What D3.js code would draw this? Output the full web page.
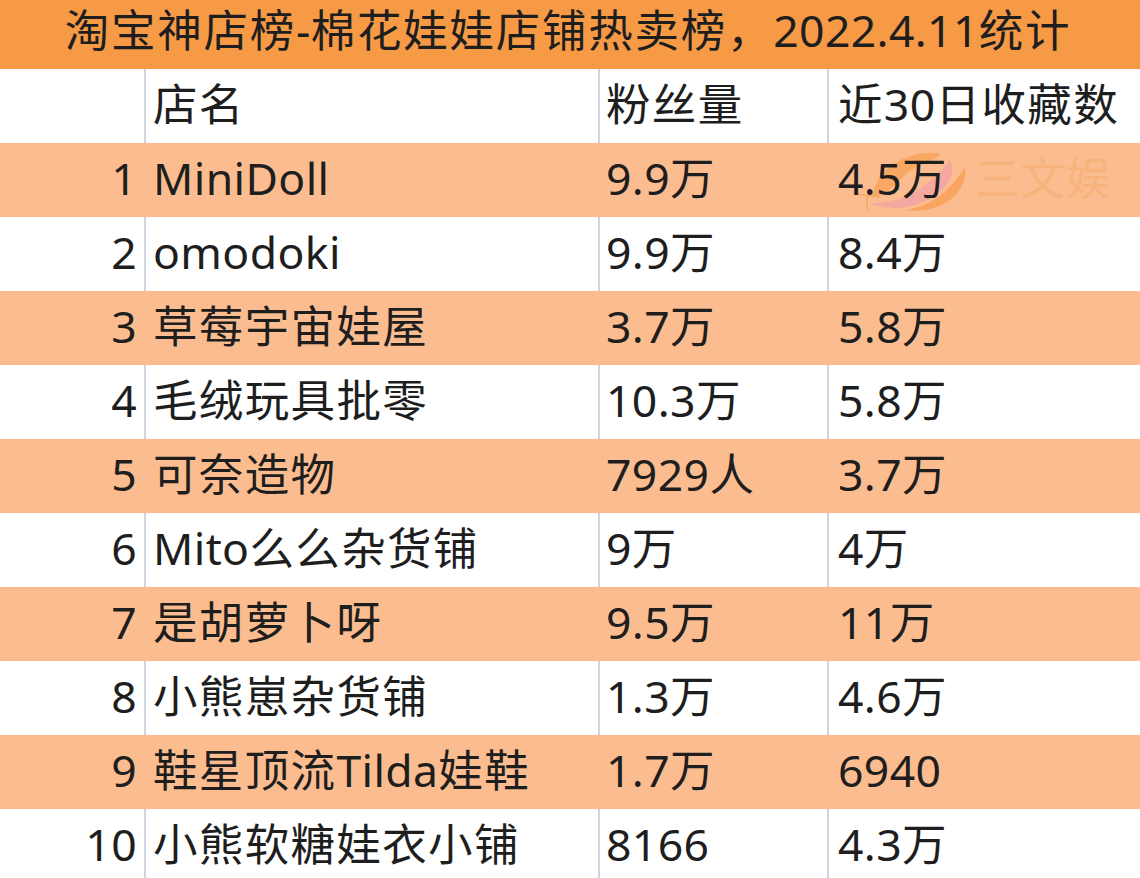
<!DOCTYPE html>
<html><head><meta charset="utf-8">
<script src="https://cdn.jsdelivr.net/npm/d3@7"></script>
<style>html,body{margin:0;padding:0;background:#fff}svg{display:block}text{font-family:"Noto Sans","Noto Sans CJK SC",sans-serif;text-spacing-trim:space-all;font-feature-settings:"palt" 0,"halt" 0,"chws" 0}</style>
</head><body><svg id="c" width="1140" height="878"></svg>
<script>
const title = "淘宝神店榜-棉花娃娃店铺热卖榜，2022.4.11统计";
const headers = ["", "店名", "粉丝量", "近30日收藏数"];
const ranks = ["1","2","3","4","5","6","7","8","9","10"];
const shops = ["MiniDoll","omodoki","草莓宇宙娃屋","毛绒玩具批零","可奈造物","Mito么么杂货铺","是胡萝卜呀","小熊崽杂货铺","鞋星顶流Tilda娃鞋","小熊软糖娃衣小铺"];
const fans = ["9.9万","9.9万","3.7万","10.3万","7929人","9万","9.5万","1.3万","1.7万","8166"];
const favs = ["4.5万","8.4万","5.8万","5.8万","3.7万","4万","11万","4.6万","6940","4.3万"];
const rowKeys = ["title","header",...ranks];
const svg = d3.select("#c");
const W = 1140;
const y = d3.scaleBand().domain(rowKeys).range([-5, 883]);
const colEdges = [145,599,828];
const striped = k => k!=="title" && k!=="header" && +k%2===1;
svg.selectAll("rect.row").data(rowKeys).join("rect").attr("class","row")
  .attr("x",0).attr("width",W).attr("y",k=>y(k)).attr("height",y.bandwidth())
  .attr("fill",k=>k==="title"?"#f79a46":(striped(k)?"#fbbd8f":"#fff"));
const whiteRows = rowKeys.filter(k=>k!=="title" && !striped(k));
whiteRows.forEach(k=>{
  svg.append("g").selectAll("line").data(colEdges).join("line")
    .attr("x1",d=>d).attr("x2",d=>d).attr("y1",y(k)).attr("y2",y(k)+y.bandwidth())
    .attr("stroke","#b9c4d4").attr("stroke-width",1.4);
});
// watermark
const wm = svg.append("g");
wm.append("path").attr("d","M872 198 C875 170 905 150 938 153 C950 155 915 165 905 175 C895 185 885 195 872 198Z").attr("fill","#f9a863");
wm.append("path").attr("d","M868 203 C905 205 930 185 950 160 C958 175 945 195 915 205 C900 210 880 208 868 203Z").attr("fill","#f5a8a0");
wm.append("path").attr("d","M905 210 C935 205 950 190 965 167 C968 190 945 215 905 210Z").attr("fill","#f9a560");
wm.append("path").attr("d","M855 194 L880 197 M867 195 L867 210").attr("stroke","#f9ab6c").attr("stroke-width",2).attr("fill","none");
wm.append("text").text("三文娱").attr("x",975).attr("y",y("1")+y.bandwidth()/2-3).attr("dominant-baseline","central")
  .attr("font-size",44.5).attr("letter-spacing",1).attr("fill","#f8b27c");
const FS = 44.5;
const isLatin = ch => ch.charCodeAt(0) < 128;
const runs = s => { const out=[]; for (const ch of s) { const l=isLatin(ch);
  if (out.length && out[out.length-1].l===l) out[out.length-1].t+=ch; else out.push({t:ch,l}); } return out; };
const txt=(s,x,yy,a,cjkGap=1.35)=>{
  const t=svg.append("text").attr("x",x).attr("y",yy).attr("text-anchor",a)
    .attr("dominant-baseline","central").attr("font-size",FS).attr("fill","#1e1e1e");
  t.selectAll("tspan").data(runs(s)).join("tspan").text(d=>d.t)
    .attr("letter-spacing",d=>d.l?0.4:cjkGap);
};
txt(title,568,y("title")+y.bandwidth()/2-3,"middle",1.75);
const xs=[137,153,606,838];
headers.forEach((h,i)=>{ if(h) txt(h,xs[i],y("header")+y.bandwidth()/2-3,"start"); });
ranks.forEach((r,i)=>{
  const c=y(r)+y.bandwidth()/2-3;
  txt(r,xs[0],c,"end");
  txt(shops[i],xs[1],c,"start");
  txt(fans[i],xs[2],c,"start");
  txt(favs[i],xs[3],c,"start");
});
</script></body></html>
